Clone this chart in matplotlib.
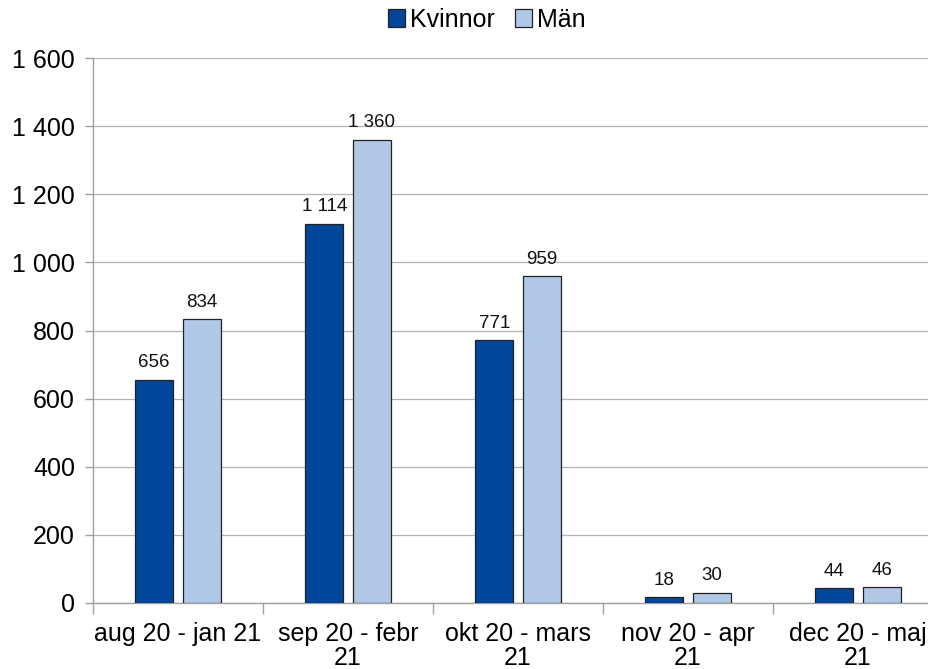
import matplotlib
matplotlib.use("Agg")
import matplotlib.pyplot as plt
from matplotlib.ticker import FuncFormatter, FixedLocator
import numpy as np

categories = ["aug 20 - jan 21", "sep 20 - febr\n21", "okt 20 - mars\n21", "nov 20 - apr\n21", "dec 20 - maj\n21"]
kvinnor = [656, 1114, 771, 18, 44]
man = [834, 1360, 959, 30, 46]
series_names = ["Kvinnor", "Män"]
colors = ["#00469a", "#b0c8e6"]

plt.rcParams['font.family'] = ['Liberation Sans', 'DejaVu Sans']

fig = plt.figure(figsize=(9.29, 6.69), dpi=100)
ax = fig.add_axes([93/929, (669-603)/669, (943-93)/929, (603-58)/669])

x = np.arange(len(categories))
w = 0.225
off = 0.14

def fmt(v):
    return f"{int(v):,}".replace(",", " ")

for vals, name, c, o in [(kvinnor, series_names[0], colors[0], -off), (man, series_names[1], colors[1], off)]:
    bars = ax.bar(x + o, vals, width=w, color=c, edgecolor="#222222", linewidth=0.9, label=name, zorder=3)
    for b, v in zip(bars, vals):
        ax.annotate(fmt(v), (b.get_x() + b.get_width()/2, v), xytext=(0, 6), textcoords="offset points",
                    ha="center", va="bottom", fontsize=13.5, color="#111111", zorder=4)

ax.set_xlim(-0.5, len(categories) - 0.5)
ax.set_ylim(0, 1600)
ax.set_yticks(np.arange(0, 1601, 200))
ax.yaxis.set_major_formatter(FuncFormatter(lambda v, p: fmt(v)))
ax.set_xticks(x)
ax.set_xticklabels(categories, fontsize=18, linespacing=1.0)
ax.xaxis.set_minor_locator(FixedLocator(np.arange(-0.5, len(categories), 1.0)))
ax.tick_params(axis="x", which="major", length=0, pad=14)
ax.tick_params(axis="x", which="minor", length=8, color="#a0a0a0", width=1)
ax.tick_params(axis="y", length=6, color="#a0a0a0", width=1, labelsize=18, pad=7)

ax.yaxis.grid(True, color="#b4b4b4", linewidth=0.9, zorder=0)
ax.set_axisbelow(True)
for s in ["top", "right"]:
    ax.spines[s].set_visible(False)
for s in ["left", "bottom"]:
    ax.spines[s].set_color("#a0a0a0")
    ax.spines[s].set_linewidth(1)

fig.legend(loc="upper center", bbox_to_anchor=(0.524, 1.022), ncol=2, frameon=False, fontsize=18,
           handlelength=0.7, handleheight=0.7, handletextpad=0.2, columnspacing=0.8)

fig.savefig("out.png", dpi=100)
